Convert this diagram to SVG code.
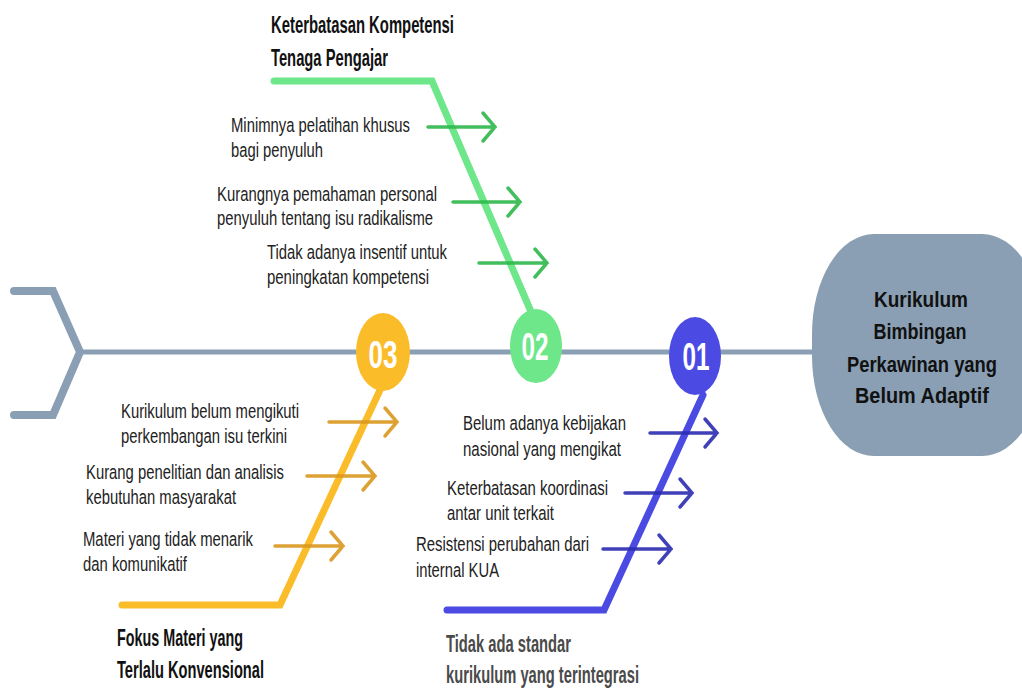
<svg xmlns="http://www.w3.org/2000/svg" width="1022" height="691" viewBox="0 0 1022 691">
<style>
.spine{fill:none;stroke:#8a9fb3;stroke-width:5}
.tail{fill:none;stroke:#8a9fb3;stroke-width:8;stroke-linecap:round;stroke-linejoin:miter}
.bone{fill:none;stroke-width:7;stroke-linecap:round;stroke-linejoin:miter}
.arr{fill:none;stroke-width:3.5;stroke-linecap:round;stroke-linejoin:miter;opacity:0.9}
.lbl{font-family:"Liberation Sans Narrow","Liberation Sans",Arial,sans-serif;font-size:20.5px;fill:#222}
.ttl{font-family:"Liberation Sans Narrow","Liberation Sans",Arial,sans-serif;font-size:24px;font-weight:bold;fill:#111}
.num{font-family:"Liberation Sans Narrow","Liberation Sans",Arial,sans-serif;font-size:38px;font-weight:bold;fill:#fff;text-anchor:middle}
.head{font-family:"Liberation Sans Narrow","Liberation Sans",Arial,sans-serif;font-size:21.5px;font-weight:bold;fill:#111;text-anchor:middle}
</style>
<rect width="1022" height="691" fill="#fff"/>
<g id="connectors">
  <path class="tail" d="M14,291 H53 L80,352 L53,415 H14"/>
  <line class="spine" x1="78" y1="352" x2="816" y2="352"/>
</g>
<g id="head">
  <rect x="812" y="234" width="232" height="222" rx="62" ry="100" fill="#8a9fb3"/>
  <text class="head" x="921" y="307" textLength="94" lengthAdjust="spacingAndGlyphs">Kurikulum</text>
  <text class="head" x="920" y="339" textLength="93" lengthAdjust="spacingAndGlyphs">Bimbingan</text>
  <text class="head" x="922" y="372" textLength="150" lengthAdjust="spacingAndGlyphs">Perkawinan yang</text>
  <text class="head" x="922" y="403" textLength="134" lengthAdjust="spacingAndGlyphs">Belum Adaptif</text>
</g>
<g id="cause-02">
  <path class="bone" stroke="#6ee68a" d="M274,81 H432 L532,314"/>
  <ellipse cx="536" cy="346" rx="26" ry="37" fill="#6ee68a"/>
  <text class="num" x="535" y="360" textLength="27" lengthAdjust="spacingAndGlyphs">02</text>
  <text class="ttl" x="271" y="33" textLength="183" lengthAdjust="spacingAndGlyphs">Keterbatasan Kompetensi</text>
  <text class="ttl" x="271" y="66" textLength="117" lengthAdjust="spacingAndGlyphs">Tenaga Pengajar</text>
  <path class="arr" stroke="#2db84a" d="M428,127 H495 M483,113 L495,127 L483,141"/>
  <path class="arr" stroke="#2db84a" d="M453,202 H520 M508,188 L520,202 L508,216"/>
  <path class="arr" stroke="#2db84a" d="M479,263 H547 M535,249 L547,263 L535,277"/>
  <text class="lbl" x="231" y="132" textLength="179" lengthAdjust="spacingAndGlyphs">Minimnya pelatihan khusus</text>
  <text class="lbl" x="231" y="157" textLength="92" lengthAdjust="spacingAndGlyphs">bagi penyuluh</text>
  <text class="lbl" x="217" y="201" textLength="220" lengthAdjust="spacingAndGlyphs">Kurangnya pemahaman personal</text>
  <text class="lbl" x="217" y="225" textLength="216" lengthAdjust="spacingAndGlyphs">penyuluh tentang isu radikalisme</text>
  <text class="lbl" x="267" y="259" textLength="180" lengthAdjust="spacingAndGlyphs">Tidak adanya insentif untuk</text>
  <text class="lbl" x="267" y="284" textLength="162" lengthAdjust="spacingAndGlyphs">peningkatan kompetensi</text>
</g>
<g id="cause-03">
  <path class="bone" stroke="#fbbc2a" d="M122,605 H280 L380,390"/>
  <ellipse cx="383" cy="352" rx="27" ry="39" fill="#fbbc2a"/>
  <text class="num" x="383" y="368" textLength="29" lengthAdjust="spacingAndGlyphs">03</text>
  <path class="arr" stroke="#d9971e" d="M329,422 H397 M385,408 L397,422 L385,436"/>
  <path class="arr" stroke="#d9971e" d="M307,476 H375 M363,462 L375,476 L363,490"/>
  <path class="arr" stroke="#d9971e" d="M275,546 H343 M331,532 L343,546 L331,560"/>
  <text class="lbl" x="121" y="418" textLength="178" lengthAdjust="spacingAndGlyphs">Kurikulum belum mengikuti</text>
  <text class="lbl" x="121" y="443" textLength="166" lengthAdjust="spacingAndGlyphs">perkembangan isu terkini</text>
  <text class="lbl" x="86" y="479" textLength="198" lengthAdjust="spacingAndGlyphs">Kurang penelitian dan analisis</text>
  <text class="lbl" x="86" y="504" textLength="150" lengthAdjust="spacingAndGlyphs">kebutuhan masyarakat</text>
  <text class="lbl" x="83" y="546" textLength="170" lengthAdjust="spacingAndGlyphs">Materi yang tidak menarik</text>
  <text class="lbl" x="83" y="571" textLength="104" lengthAdjust="spacingAndGlyphs">dan komunikatif</text>
  <text class="ttl" x="117" y="646" textLength="126" lengthAdjust="spacingAndGlyphs">Fokus Materi yang</text>
  <text class="ttl" x="117" y="678" textLength="147" lengthAdjust="spacingAndGlyphs">Terlalu Konvensional</text>
</g>
<g id="cause-01">
  <path class="bone" stroke="#4b4be3" d="M447,610 H604 L703,395"/>
  <ellipse cx="695" cy="356" rx="26" ry="39" fill="#4b4be3"/>
  <text class="num" x="696" y="370" textLength="27" lengthAdjust="spacingAndGlyphs">01</text>
  <path class="arr" stroke="#2b2bb0" d="M650,433 H717 M705,419 L717,433 L705,447"/>
  <path class="arr" stroke="#2b2bb0" d="M625,493 H692 M680,479 L692,493 L680,507"/>
  <path class="arr" stroke="#2b2bb0" d="M603,549 H671 M659,535 L671,549 L659,563"/>
  <text class="lbl" x="463" y="430" textLength="163" lengthAdjust="spacingAndGlyphs">Belum adanya kebijakan</text>
  <text class="lbl" x="463" y="456" textLength="158" lengthAdjust="spacingAndGlyphs">nasional yang mengikat</text>
  <text class="lbl" x="447" y="495" textLength="161" lengthAdjust="spacingAndGlyphs">Keterbatasan koordinasi</text>
  <text class="lbl" x="447" y="520" textLength="107" lengthAdjust="spacingAndGlyphs">antar unit terkait</text>
  <text class="lbl" x="416" y="551" textLength="173" lengthAdjust="spacingAndGlyphs">Resistensi perubahan dari</text>
  <text class="lbl" x="416" y="577" textLength="83" lengthAdjust="spacingAndGlyphs">internal KUA</text>
  <text class="ttl" x="446" y="652" style="fill:#4a4a4a" textLength="125" lengthAdjust="spacingAndGlyphs">Tidak ada standar</text>
  <text class="ttl" x="446" y="683" style="fill:#4a4a4a" textLength="193" lengthAdjust="spacingAndGlyphs">kurikulum yang terintegrasi</text>
</g>
</svg>
